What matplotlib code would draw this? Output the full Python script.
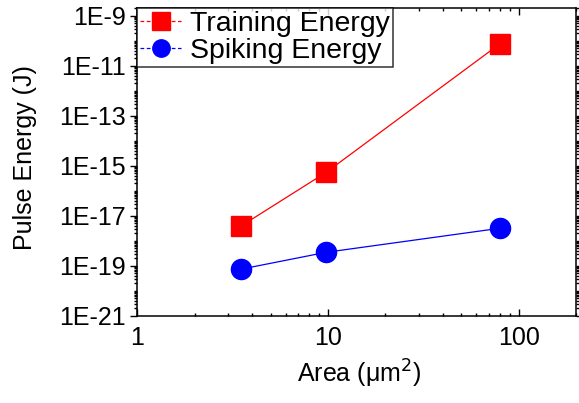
import numpy as np
import matplotlib
matplotlib.use('Agg')
import matplotlib.pyplot as plt
from matplotlib.lines import Line2D
from matplotlib.ticker import LogLocator, FixedLocator, FuncFormatter, NullFormatter

plt.rcParams['font.family'] = ['Liberation Sans', 'DejaVu Sans']

# data
area = [3.5, 9.8, 80]
training_energy = [3.9e-18, 5.5e-16, 7.6e-11]
spiking_energy = [7.4e-20, 3.5e-19, 3.2e-18]
ytick_exps = [-21, -19, -17, -15, -13, -11, -9]
xtick_vals = [1, 10, 100]

red = '#ff0000'
blue = '#0000ff'

fig = plt.figure(figsize=(5.79, 4.03), dpi=100)
ax = fig.add_axes([0.237, 0.216, 0.758, 0.764])

ax.plot(area, training_energy, '-', color=red, lw=0.9, marker='s',
        ms=14, mec=red, mfc=red)
ax.plot(area, spiking_energy, '-', color=blue, lw=0.9, marker='o',
        ms=14.5, mec=blue, mfc=blue)

ax.set_xscale('log')
ax.set_yscale('log')
ax.set_xlim(1, 200)
ax.set_ylim(1e-21, 2e-9)

ax.yaxis.set_major_locator(FixedLocator([10.0 ** e for e in ytick_exps]))
ax.yaxis.set_major_formatter(FuncFormatter(lambda v, p: '1E%d' % round(np.log10(v))))
ax.yaxis.set_minor_locator(LogLocator(base=10, subs=np.arange(1, 10), numticks=100))
ax.yaxis.set_minor_formatter(NullFormatter())

ax.xaxis.set_major_locator(FixedLocator(xtick_vals))
ax.xaxis.set_major_formatter(FuncFormatter(lambda v, p: '%d' % round(v)))
ax.xaxis.set_minor_locator(LogLocator(base=10, subs=np.arange(2, 10), numticks=100))
ax.xaxis.set_minor_formatter(NullFormatter())

ax.tick_params(which='both', labelsize=18, width=1)
ax.tick_params(axis='y', which='both', direction='out', right=True)
ax.tick_params(axis='x', which='both', direction='in', top=True)
ax.tick_params(which='major', length=5)
ax.tick_params(which='minor', length=2.5)
ax.tick_params(axis='y', which='major', pad=3)
ax.tick_params(axis='x', which='major', pad=7)
for s in ax.spines.values():
    s.set_linewidth(1.1)

ax.set_xlabel('Area (\u03bcm$^2$)', fontsize=18)
ax.xaxis.set_label_coords(0.505, -0.135)
ax.set_ylabel('Pulse Energy (J)', fontsize=18)
ax.yaxis.set_label_coords(-0.228, 0.516)

handles = [
    Line2D([], [], color=red, lw=0.9, ls=(0, (3, 2)), marker='s', ms=12.5, mec=red, mfc=red),
    Line2D([], [], color=blue, lw=0.9, ls=(0, (3, 2)), marker='o', ms=12.5, mec=blue, mfc=blue),
]
leg = ax.legend(handles, ['Training Energy', 'Spiking Energy'], loc='upper left',
                fontsize=20.5, frameon=True, fancybox=False, edgecolor='black',
                handlelength=1.45, handletextpad=0.3, borderpad=0.1,
                labelspacing=0.05, borderaxespad=0.0)
leg.get_frame().set_linewidth(1.1)

fig.savefig('out.png', dpi=100)
